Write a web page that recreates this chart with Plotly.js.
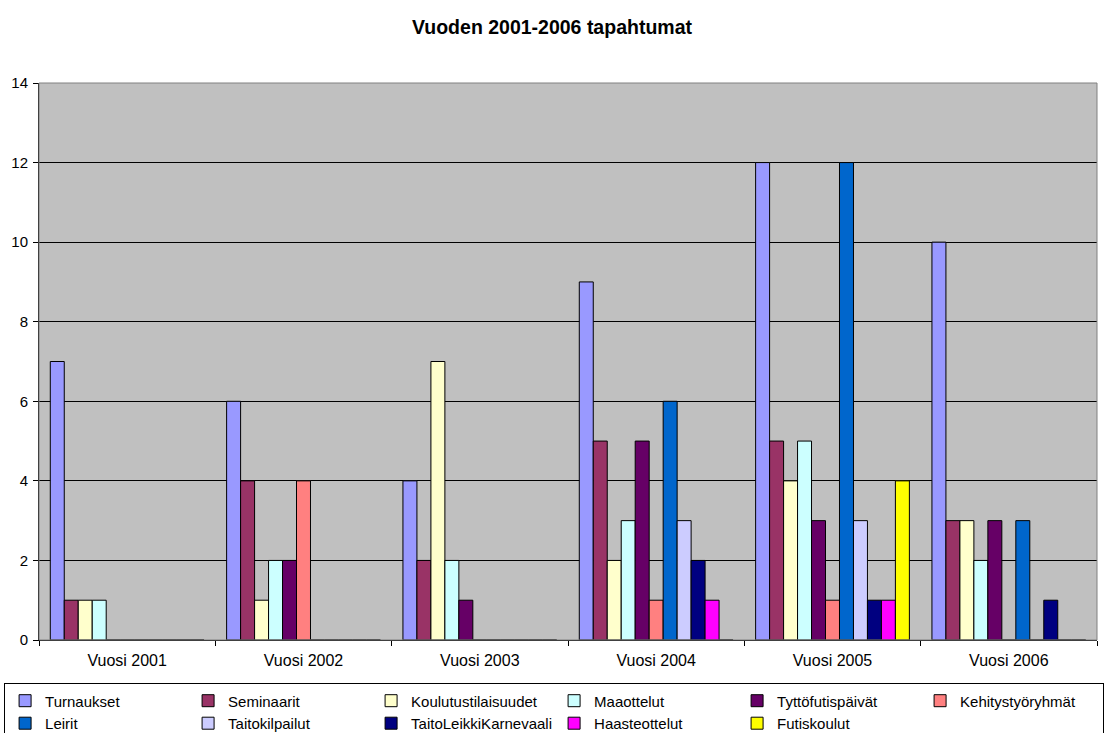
<!DOCTYPE html>
<html>
<head>
<meta charset="utf-8">
<script src="https://cdn.plot.ly/plotly-3.0.1.min.js"></script>
<style>html,body{margin:0;padding:0;background:#fff;}#chart{width:1104px;height:733px;}</style>
</head>
<body>
<div id="chart"></div>
<script>
const categories = ["Vuosi 2001", "Vuosi 2002", "Vuosi 2003", "Vuosi 2004", "Vuosi 2005", "Vuosi 2006"];
const seriesNames = ["Turnaukset", "Seminaarit", "Koulutustilaisuudet", "Maaottelut", "Tyttöfutispäivät", "Kehitystyöryhmät", "Leirit", "Taitokilpailut", "TaitoLeikkiKarnevaali", "Haasteottelut", "Futiskoulut"];
const turnaukset = [7, 6, 4, 9, 12, 10];
const seminaarit = [1, 4, 2, 5, 5, 3];
const koulutustilaisuudet = [1, 1, 7, 2, 4, 3];
const maaottelut = [1, 2, 2, 3, 5, 2];
const tyttofutispaivat = [0, 2, 1, 5, 3, 3];
const kehitystyoryhmat = [0, 4, 0, 1, 1, 0];
const leirit = [0, 0, 0, 6, 12, 3];
const taitokilpailut = [0, 0, 0, 3, 3, 0];
const taitoLeikkiKarnevaali = [0, 0, 0, 2, 1, 1];
const haasteottelut = [0, 0, 0, 1, 1, 0];
const futiskoulut = [0, 0, 0, 0, 4, 0];
const seriesValues = [turnaukset, seminaarit, koulutustilaisuudet, maaottelut, tyttofutispaivat, kehitystyoryhmat, leirit, taitokilpailut, taitoLeikkiKarnevaali, haasteottelut, futiskoulut];
const colors = ["#9999FF", "#993366", "#FFFFCC", "#CCFFFF", "#660066", "#FF8080", "#0066CC", "#CCCCFF", "#000080", "#FF00FF", "#FFFF00"];

const font = "Liberation Sans, Arial, sans-serif";
const traces = seriesNames.map((name, i) => ({
  type: "bar",
  name: name,
  x: categories,
  y: seriesValues[i],
  marker: {color: colors[i], line: {color: "#000000", width: 1}},
  hoverinfo: "x+y+name"
}));

const layout = {
  width: 1104,
  height: 733,
  margin: {l: 39, r: 7, t: 83, b: 93, autoexpand: false},
  paper_bgcolor: "#ffffff",
  plot_bgcolor: "#C0C0C0",
  font: {family: font, color: "#000000", size: 15},
  title: {text: "<b>Vuoden 2001-2006 tapahtumat</b>", font: {family: font, size: 19.5, color: "#000"}, x: 0.5, xanchor: "center", y: 0.963, yanchor: "middle"},
  barmode: "group",
  bargap: 0.128,
  bargroupgap: 0,
  xaxis: {
    type: "category",
    tickson: "boundaries",
    ticks: "outside",
    ticklen: 5,
    tickcolor: "#000",
    showline: true,
    linecolor: "#000",
    linewidth: 1,
    showgrid: false,
    tickfont: {family: font, size: 16},
    ticklabelstandoff: 6
  },
  yaxis: {
    range: [0, 14],
    dtick: 2,
    ticks: "outside",
    ticklen: 5,
    tickcolor: "#000",
    showline: true,
    linecolor: "#000",
    linewidth: 1,
    showgrid: true,
    gridcolor: "#000000",
    gridwidth: 1,
    zeroline: false,
    tickfont: {family: font, size: 15},
    ticklabelstandoff: 2
  },
  shapes: [
    {type: "rect", xref: "paper", yref: "paper", x0: 0, x1: 1, y0: 0, y1: 1, line: {color: "#808080", width: 1}, fillcolor: "rgba(0,0,0,0)", layer: "above"}
  ],
  legend: {
    orientation: "h",
    x: -0.033,
    xanchor: "left",
    y: -0.078,
    yanchor: "top",
    bgcolor: "#ffffff",
    bordercolor: "#000000",
    borderwidth: 1,
    font: {family: font, size: 15},
    entrywidth: 138,
    entrywidthmode: "pixels",
    itemwidth: 30,
    traceorder: "normal",
    tracegroupgap: 0
  },
  showlegend: true
};

Plotly.newPlot("chart", traces, layout, {displayModeBar: false, staticPlot: true});
</script>
</body>
</html>
